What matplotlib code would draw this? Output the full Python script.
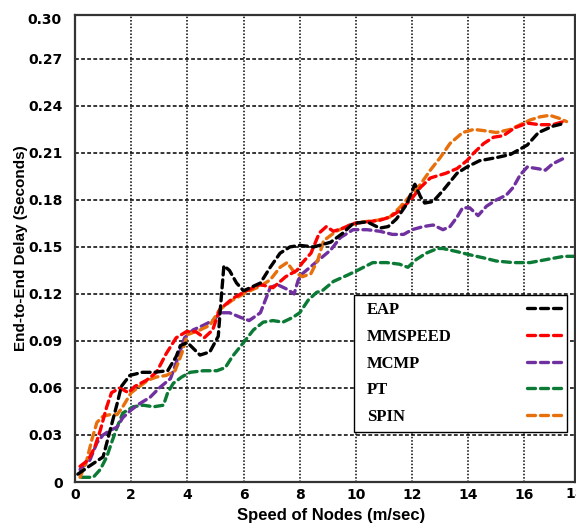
import matplotlib
matplotlib.use("Agg")
import matplotlib.pyplot as plt

# values
eap_x = [0.1, 0.5, 1.0, 1.25, 1.5, 1.65, 1.95, 2.4, 2.8, 3.3, 3.6, 3.75, 4.0, 4.45, 4.8, 5.1, 5.2, 5.3, 5.5, 5.75,
         6.0, 6.6, 6.95, 7.3, 7.65, 8.0, 8.5, 9.1, 9.55, 9.9, 10.4, 10.85, 11.15, 11.45, 11.8, 12.1, 12.3, 12.45,
         12.75, 13.1, 13.6, 13.95, 14.4, 15.0, 15.5, 16.1, 16.5, 17.0, 17.45]
eap_y = [0.005, 0.01, 0.016, 0.033, 0.05, 0.061, 0.068, 0.07, 0.07, 0.071, 0.08, 0.087, 0.089, 0.081, 0.083, 0.093,
         0.116, 0.138, 0.135, 0.127, 0.122, 0.127, 0.137, 0.146, 0.150, 0.151, 0.150, 0.153, 0.159, 0.165, 0.166,
         0.162, 0.163, 0.168, 0.177, 0.19, 0.182, 0.178, 0.179, 0.186, 0.197, 0.201, 0.205, 0.207, 0.209, 0.215,
         0.223, 0.227, 0.229]

mms_x = [0.18, 0.47, 0.7, 0.9, 1.13, 1.3, 1.6, 1.9, 2.13, 2.55, 2.9, 3.25, 3.6, 3.97, 4.3, 4.6, 4.9, 5.15, 5.6, 6.1,
         6.6, 7.05, 7.5, 7.9, 8.1, 8.4, 8.7, 8.95, 9.2, 9.55, 9.9, 10.4, 10.85, 11.2, 11.55, 11.95, 12.3, 12.65,
         13.2, 13.6, 13.95, 14.2, 14.55, 14.9, 15.25, 15.65, 16.1, 16.55, 17.0, 17.4]
mms_y = [0.01, 0.014, 0.022, 0.033, 0.048, 0.057, 0.06, 0.057, 0.061, 0.065, 0.07, 0.082, 0.092, 0.096, 0.096, 0.092,
         0.097, 0.11, 0.117, 0.122, 0.126, 0.124, 0.131, 0.135, 0.14, 0.146, 0.159, 0.163, 0.160, 0.162, 0.165,
         0.166, 0.167, 0.169, 0.173, 0.18, 0.188, 0.194, 0.197, 0.2, 0.205, 0.21, 0.216, 0.22, 0.221, 0.226, 0.229,
         0.228, 0.228, 0.23]

mcmp_x = [0.18, 0.53, 0.78, 1.0, 1.25, 1.5, 1.7, 2.0, 2.3, 2.67, 3.0, 3.4, 3.6, 3.9, 4.2, 4.57, 4.9, 5.2, 5.5, 5.9,
          6.2, 6.6, 6.95, 7.2, 7.55, 7.8, 7.95, 8.1, 8.7, 9.1, 9.45, 9.9, 10.4, 10.85, 11.3, 11.7, 12.0, 12.4, 12.75,
          13.1, 13.35, 13.6, 13.8, 14.05, 14.35, 14.65, 15.0, 15.35, 15.6, 15.85, 16.1, 16.45, 16.75, 17.0, 17.45]
mcmp_y = [0.008, 0.014, 0.025, 0.03, 0.033, 0.035, 0.041, 0.046, 0.05, 0.054, 0.06, 0.066, 0.076, 0.092, 0.097, 0.1,
          0.103, 0.108, 0.108, 0.105, 0.103, 0.108, 0.124, 0.126, 0.123, 0.12, 0.129, 0.133, 0.142, 0.148, 0.156,
          0.161, 0.161, 0.16, 0.158, 0.158, 0.161, 0.163, 0.164, 0.161, 0.163, 0.169, 0.175, 0.175, 0.17, 0.176,
          0.18, 0.183, 0.188, 0.196, 0.201, 0.2, 0.199, 0.203, 0.207]

pt_x = [0.24, 0.65, 0.9, 1.13, 1.3, 1.5, 1.7, 2.07, 2.43, 2.8, 3.15, 3.3, 3.5, 3.8, 4.1, 4.57, 5.05, 5.35, 5.6, 6.0,
        6.35, 6.7, 7.05, 7.4, 7.75, 8.0, 8.3, 8.6, 8.8, 9.2, 9.7, 10.05, 10.6, 11.1, 11.55, 11.85, 12.15, 12.5, 12.9,
        13.1, 13.6, 14.05, 14.55, 15.0, 15.6, 16.2, 16.8, 17.4, 17.8]
pt_y = [0.003, 0.003, 0.008, 0.016, 0.025, 0.035, 0.044, 0.048, 0.049, 0.048, 0.049, 0.057, 0.063, 0.067, 0.07,
        0.071, 0.071, 0.073, 0.08, 0.089, 0.097, 0.102, 0.103, 0.102, 0.105, 0.108, 0.116, 0.121, 0.122, 0.128,
        0.132, 0.135, 0.14, 0.14, 0.139, 0.137, 0.142, 0.146, 0.149, 0.149, 0.147, 0.145, 0.143, 0.141, 0.14, 0.14,
        0.142, 0.144, 0.144]

spin_x = [0.18, 0.42, 0.6, 0.78, 1.0, 1.25, 1.5, 1.7, 2.0, 2.3, 2.6, 2.9, 3.25, 3.56, 3.8, 4.0, 4.45, 4.8, 5.15, 5.6,
          6.1, 6.6, 6.95, 7.3, 7.55, 7.8, 8.1, 8.4, 8.65, 8.85, 9.3, 9.8, 10.25, 10.75, 11.2, 11.55, 11.9, 12.3,
          12.65, 13.0, 13.35, 13.8, 14.2, 14.65, 15.0, 15.5, 15.85, 16.2, 16.55, 16.9, 17.25, 17.5]
spin_y = [0.003, 0.014, 0.027, 0.038, 0.042, 0.043, 0.043, 0.048, 0.057, 0.061, 0.065, 0.067, 0.068, 0.071, 0.082,
          0.094, 0.097, 0.1, 0.11, 0.116, 0.121, 0.125, 0.129, 0.137, 0.14, 0.134, 0.131, 0.133, 0.142, 0.154, 0.16,
          0.164, 0.166, 0.167, 0.169, 0.175, 0.182, 0.19, 0.199, 0.207, 0.216, 0.223, 0.225, 0.224, 0.223, 0.225,
          0.228, 0.231, 0.233, 0.234, 0.232, 0.23]

y_ticks = [0, 0.03, 0.06, 0.09, 0.12, 0.15, 0.18, 0.21, 0.24, 0.27]
y_labels = ["0", "0.03", "0.06", "0.09", "0.12", "0.15", "0.18", "0.21", "0.24", "0.27"]
x_ticks = [0, 2, 4, 6, 8, 10, 12, 14, 16]

sans = ["Liberation Sans", "DejaVu Sans"]
serif = ["Liberation Serif", "DejaVu Serif"]

fig = plt.figure(figsize=(5.76, 5.25), dpi=100)
ax = fig.add_axes([75 / 576, 43 / 525, 500 / 576, 467 / 525])

dash = (2.4, 1.5)
lw = 2.4
series = [
    ("EAP", eap_x, eap_y, "#000000", 6),
    ("MMSPEED", mms_x, mms_y, "#ff0000", 5),
    ("MCMP", mcmp_x, mcmp_y, "#7030a0", 3),
    ("PT", pt_x, pt_y, "#0b7a35", 2),
    ("SPIN", spin_x, spin_y, "#e8700c", 4),
]
lines = []
for name, xs, ys, col, z in series:
    ln, = ax.plot(xs, ys, color=col, lw=lw, dashes=dash, dash_capstyle="round", label=name, zorder=z)
    lines.append(ln)

ax.set_xlim(0, 17.8)
ax.set_ylim(0, 0.298)
ax.set_xticks(x_ticks)
ax.set_yticks(y_ticks)
ax.set_yticklabels(y_labels)
ax.tick_params(length=0, labelsize=10)
ax.tick_params(axis="y", pad=9)
ax.tick_params(axis="x", pad=4)
for lab in ax.get_xticklabels() + ax.get_yticklabels():
    lab.set_family("DejaVu Sans")
    lab.set_fontweight("bold")

ax.xaxis.grid(True, color="black", linestyle=(0, (1, 1.2)), lw=1.1)
ax.yaxis.grid(True, color="black", linestyle=(0, (2.5, 1.5)), lw=1.1)
ax.set_axisbelow(True)
for sp in ax.spines.values():
    sp.set_color("#333333")
    sp.set_linewidth(1.6)

# top y label and clipped last x label
ax.text(-13 / 500, 0.2945, "0.30", transform=ax.get_yaxis_transform(), ha="right", va="center",
        family="DejaVu Sans", fontweight="bold", fontsize=10)
ax.text(17.8, -5.5 / 467, "18", transform=ax.get_xaxis_transform(), ha="center", va="top",
        family="DejaVu Sans", fontweight="bold", fontsize=10)

ax.set_xlabel("Speed of Nodes (m/sec)", family=sans, fontweight="bold", fontsize=12)
ax.set_ylabel("End-to-End Delay (Seconds)", family=sans, fontweight="bold", fontsize=11)
ax.xaxis.set_label_coords(0.512, -0.055)
ax.yaxis.set_label_coords(-0.094, 0.5)

names = [s[0] for s in series]
leg_font = {"family": serif, "weight": "bold", "size": 12}
common = dict(borderaxespad=0, labelspacing=0.64, borderpad=0.42, prop=leg_font)

# framed box holding the names, left aligned, stretched to the box width
leg1 = ax.legend(lines, names, loc="upper left", bbox_to_anchor=(0.558, 0.109, 0.426, 0.291), mode="expand",
                 markerfirst=True, handlelength=0, handletextpad=0.35, fancybox=False, framealpha=1,
                 edgecolor="black", **common)
leg1.get_frame().set_linewidth(1.0)
for h in leg1.legend_handles:
    h.set_visible(False)
leg1.set_zorder(10)
ax.add_artist(leg1)

# line samples along the right side of the same box
leg2 = ax.legend(lines, [" "] * len(lines), loc="upper right", bbox_to_anchor=(0.994, 0.400), markerfirst=False,
                 handlelength=2.3, handletextpad=0, frameon=False, **common)
leg2.set_zorder(11)

fig.savefig("out.png", dpi=100)
